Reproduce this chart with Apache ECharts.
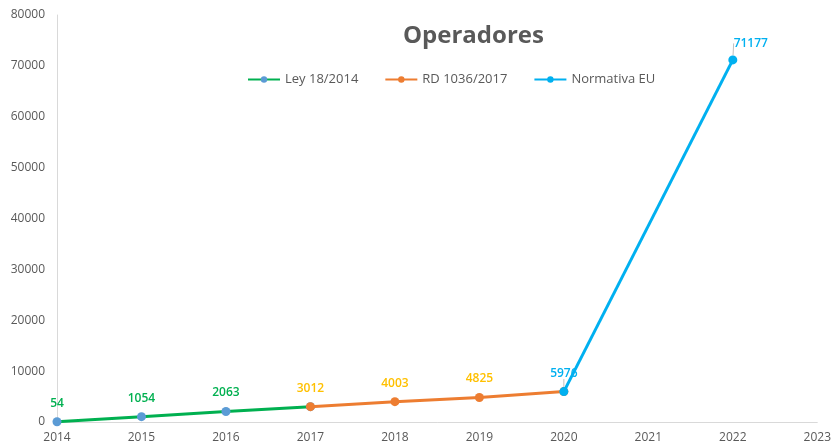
<!DOCTYPE html>
<html>
<head>
<meta charset="utf-8">
<script src="https://cdn.jsdelivr.net/npm/echarts@6/dist/echarts.min.js"></script>
<style>
  html, body { margin: 0; padding: 0; background: #fff; }
  #echart { width: 834px; height: 446px; }
</style>
</head>
<body>
<div id="echart"></div>
<script>
// datos
var yearsLey = [2014, 2015, 2016, 2017];
var valuesLey = [54, 1054, 2063, 3012];
var yearsRD = [2017, 2018, 2019, 2020];
var valuesRD = [3012, 4003, 4825, 5976];
var yearsEU = [2020, 2022];
var valuesEU = [5976, 71177];

var fontFamily = 'Open Sans, Liberation Sans, sans-serif';

function pairs(xs, ys, hideLast) {
    var out = [];
    for (var i = 0; i < xs.length; i++) {
        var p = { value: [xs[i], ys[i]] };
        if (hideLast && i == xs.length - 1) {
            p.label = { show: false };
        }
        out.push(p);
    }
    return out;
}

var myChart = echarts.init(document.getElementById('echart'));
var option = {
    animation: false,
    title: {
        text: 'Operadores',
        left: 398,
        top: 19,
        textStyle: { fontFamily: fontFamily, fontSize: 24, fontWeight: 'bold', color: '#595959' }
    },
    legend: {
        top: 68,
        left: 242,
        itemGap: 26,
        itemWidth: 32,
        itemHeight: 8,
        textStyle: { fontFamily: fontFamily, fontSize: 13, color: '#595959' },
        data: ['Ley 18/2014', 'RD 1036/2017', 'Normativa EU']
    },
    grid: { left: 57, right: 16, top: 15, bottom: 24 },
    xAxis: {
        type: 'value',
        min: 2014,
        max: 2023,
        interval: 1,
        splitLine: { show: false },
        axisTick: { show: false },
        axisLine: { show: true, lineStyle: { color: '#d9d9d9', width: 1 } },
        axisLabel: {
            fontFamily: fontFamily, fontSize: 12, color: '#595959', margin: 10,
            formatter: function (v) { return String(v); }
        }
    },
    yAxis: {
        type: 'value',
        min: 0,
        max: 80000,
        interval: 10000,
        splitLine: { show: false },
        axisTick: { show: false },
        axisLine: { show: true, lineStyle: { color: '#d9d9d9', width: 1 } },
        axisLabel: {
            fontFamily: fontFamily, fontSize: 12, color: '#595959', margin: 12,
            formatter: function (v) { return String(v); }
        }
    },
    series: [
        {
            name: 'Ley 18/2014',
            type: 'line',
            z: 2,
            data: pairs(yearsLey, valuesLey, true),
            symbol: 'circle',
            symbolSize: 9,
            color: '#00b050',
            lineStyle: { width: 3, color: '#00b050' },
            itemStyle: { color: '#5b9bd5' },
            label: { show: true, position: 'top', distance: 8, fontFamily: fontFamily, fontSize: 12, fontWeight: 600, color: '#00b050' }
        },
        {
            name: 'RD 1036/2017',
            type: 'line',
            z: 3,
            data: pairs(yearsRD, valuesRD, true),
            symbol: 'circle',
            symbolSize: 9,
            color: '#ed7d31',
            lineStyle: { width: 3, color: '#ed7d31' },
            itemStyle: { color: '#ed7d31' },
            label: { show: true, position: 'top', distance: 8, fontFamily: fontFamily, fontSize: 12, fontWeight: 600, color: '#ffc000' }
        },
        {
            name: 'Normativa EU',
            type: 'line',
            z: 4,
            data: pairs(yearsEU, valuesEU, false),
            symbol: 'circle',
            symbolSize: 9,
            color: '#00b0f0',
            lineStyle: { width: 3, color: '#00b0f0' },
            itemStyle: { color: '#00b0f0' },
            label: { show: true, position: 'top', distance: 8, fontFamily: fontFamily, fontSize: 12, fontWeight: 600, color: '#00b0f0' },
            labelLine: { show: true, lineStyle: { color: '#bfbfbf', width: 1 } },
            labelLayout: function (params) {
                if (params.dataIndex == 1) {
                    return { dx: 18, dy: 2 };
                }
                return {};
            }
        }
    ]
};
myChart.setOption(option);
</script>
</body>
</html>
